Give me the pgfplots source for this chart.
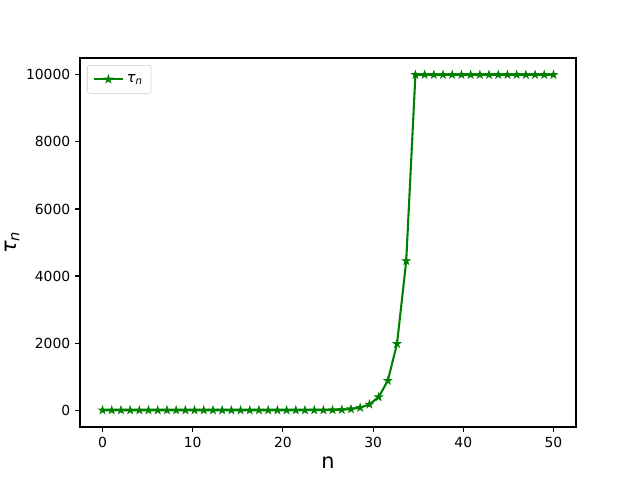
\documentclass[border=0pt]{standalone}
\usepackage{fontspec}
\setmainfont{DejaVu Sans}
\usepackage{pgfplots}
\pgfplotsset{compat=1.18}

% filled five-pointed star, like matplotlib's '*'
\pgfdeclareplotmark{fstar}{%
  \pgfpathmoveto{\pgfqpointpolar{90}{\pgfplotmarksize}}%
  \pgfpathlineto{\pgfqpointpolar{126}{0.382\pgfplotmarksize}}%
  \pgfpathlineto{\pgfqpointpolar{162}{\pgfplotmarksize}}%
  \pgfpathlineto{\pgfqpointpolar{198}{0.382\pgfplotmarksize}}%
  \pgfpathlineto{\pgfqpointpolar{234}{\pgfplotmarksize}}%
  \pgfpathlineto{\pgfqpointpolar{270}{0.382\pgfplotmarksize}}%
  \pgfpathlineto{\pgfqpointpolar{306}{\pgfplotmarksize}}%
  \pgfpathlineto{\pgfqpointpolar{342}{0.382\pgfplotmarksize}}%
  \pgfpathlineto{\pgfqpointpolar{18}{\pgfplotmarksize}}%
  \pgfpathlineto{\pgfqpointpolar{54}{0.382\pgfplotmarksize}}%
  \pgfpathclose
  \pgfusepathqfillstroke}

\definecolor{mplgreen}{HTML}{008000}

\pgfplotstableread{
x tau
0 0
1.0204 0
2.0408 0
3.0612 0
4.0816 0
5.1020 0
6.1224 0
7.1429 0
8.1633 0
9.1837 0
10.2041 0
11.2245 0
12.2449 0
13.2653 0
14.2857 0
15.3061 0
16.3265 0
17.3469 0
18.3673 0
19.3878 0
20.4082 0.1
21.4286 0.26
22.4490 0.6
23.4694 1.3
24.4898 3
25.5102 6.8
26.5306 15
27.5510 34
28.5714 77
29.5918 174
30.6122 391
31.6327 880
32.6531 1980
33.6735 4450
34.6939 10000
35.7143 10000
36.7347 10000
37.7551 10000
38.7755 10000
39.7959 10000
40.8163 10000
41.8367 10000
42.8571 10000
43.8776 10000
44.8980 10000
45.9184 10000
46.9388 10000
47.9592 10000
48.9796 10000
50 10000
}\tautable

\begin{document}
\begin{tikzpicture}
\path[use as bounding box] (-57.6pt,-38.16pt) rectangle (403.2pt,307.44pt);
\begin{axis}[
  at={(0,0)}, anchor=south west,
  scale only axis,
  width=357.12pt, height=265.68pt,
  xmin=-2.5, xmax=52.5,
  ymin=-500, ymax=10500,
  xtick={0,10,20,30,40,50},
  ytick={0,2000,4000,6000,8000,10000},
  scaled ticks=false,
  /pgf/number format/1000 sep={},
  /pgf/number format/assume math mode=true,
  tick align=outside,
  major tick length=3.5pt,
  tick style={black, line width=0.8pt},
  axis line style={line width=0.8pt},
  xtick pos=bottom, ytick pos=left,
  tick label style={font=\fontsize{10}{12}\selectfont},
  xlabel={n},
  ylabel={\textit{τ\textsubscript{n}}},
  ylabel shift=-2pt,
  label style={font=\fontsize{15}{18}\selectfont},
  legend style={at={(0.014,0.981)}, anchor=north west,
    draw=black!20, rounded corners=2pt, font=\fontsize{10.5}{12}\selectfont,
    inner xsep=4pt, inner ysep=4.5pt},
  legend cell align=left,
  legend image code/.code={
    \draw[#1] (0pt,0pt) -- (21pt,0pt);
    \draw[#1, mark repeat=2, mark phase=2] plot coordinates {(0pt,0pt) (10.5pt,0pt) (21pt,0pt)};
  },
]
\addplot[mplgreen, line width=1.5pt, mark=fstar, mark size=2.8pt,
  mark options={line width=0.6pt}] table[x=x, y=tau] {\tautable};
\addlegendentry{\textit{τ\textsubscript{n}}}
\end{axis}
\end{tikzpicture}
\end{document}
